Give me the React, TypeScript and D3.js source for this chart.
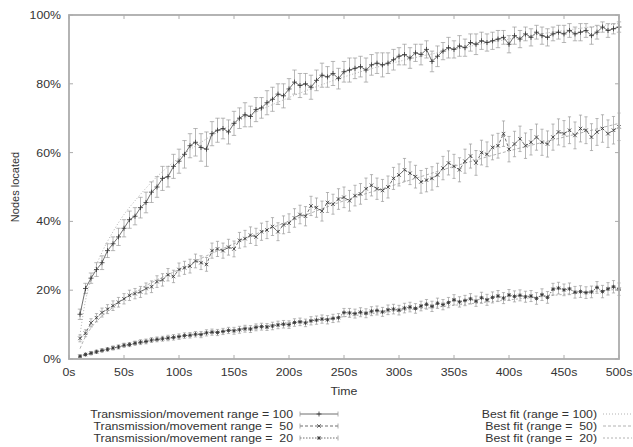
import React from 'react';
import * as d3 from 'd3';

const W = 633;
const H = 447;
const M = { top: 15, right: 14, bottom: 88, left: 69 };

// sample times (s): every 5 s from 10 to 500
const times = d3.range(10, 501, 5);

const located100 = [
  13, 20.5, 23.5, 26, 28, 31.5, 33.5, 35.5, 38, 40.5,
  41.5, 44, 45.5, 48.5, 50, 52.5, 53, 56, 57.5, 59.5,
  62, 63, 61.5, 61, 65.5, 66.5, 67, 66, 68.5, 70,
  71, 70.5, 72.5, 73, 74.5, 75.5, 77, 76.5, 78.5, 80.5,
  79.5, 80, 79, 81, 82.5, 82, 83, 81.5, 83.5, 84,
  84.5, 85, 84, 85.5, 86, 85.5, 86, 87, 88, 88.5,
  87.5, 89, 88.5, 90, 86.5, 88, 89.5, 90.5, 90, 91,
  90.5, 92, 91.5, 92.5, 92, 92.5, 93, 93.5, 91.5, 94,
  93, 94.5, 93.5, 95, 94, 93.5, 94.5, 95, 94.5, 95.5,
  94.5, 95, 95.5, 94, 95, 96.5, 95.5, 96, 96.5,
];
const err100 = [
  1.5, 1.5, 1.5, 2, 2, 2, 2, 2.5, 2.5, 2.5,
  2.5, 3, 3, 3, 3, 3.5, 3, 3.5, 3.5, 4,
  3.5, 4, 4, 5, 3.5, 3.5, 3, 3.5, 3.5, 3,
  3.5, 3, 3.5, 3, 3.5, 3.5, 3, 3.5, 3, 3.5,
  3.5, 3, 3.5, 3, 3.5, 3, 3.5, 3, 3, 3.5,
  3, 3, 3.5, 3, 3, 3.5, 3, 3, 2.5, 3,
  3, 2.5, 3, 2.5, 3, 3, 2.5, 3, 2.5, 3,
  2.5, 2.5, 3, 2.5, 2.5, 2.5, 2.5, 2, 2.5, 2.5,
  2.5, 2, 2.5, 2, 2.5, 2.5, 2, 2, 2.5, 2,
  2, 2.5, 2, 2.5, 2, 1.5, 2, 1.5, 1.5,
];

const located50 = [
  6, 7.5, 10.5, 12, 13.5, 14.5, 15.5, 16.5, 17.5, 18.5,
  19, 19.5, 20.5, 21, 22.5, 23, 24.5, 24, 26, 26.5,
  27, 28.5, 28, 27.5, 31.5, 32, 31.5, 32.5, 32, 34.5,
  35, 36, 35.5, 37, 37.5, 38.5, 37, 39, 39.5, 41,
  42, 41.5, 44.5, 44, 43, 45.5, 45, 46.5, 47, 46,
  47.5, 48, 49.5, 50.5, 49.5, 49, 50, 52.5, 53.5, 55,
  54, 53, 51.5, 52, 52.5, 53.5, 55.5, 57, 56, 55,
  57.5, 59, 57, 60, 59.5, 61.5, 62, 65.5, 61, 62.5,
  64, 62, 63, 64.5, 63, 62.5, 64.5, 66, 65.5, 66.5,
  65, 67, 66.5, 64.5, 66, 67, 65.5, 66.5, 67.5,
];
const err50 = [
  1, 1, 1.2, 1.2, 1.3, 1.3, 1.4, 1.4, 1.5, 1.5,
  1.5, 1.6, 1.6, 1.7, 1.7, 1.8, 1.8, 1.8, 1.9, 1.9,
  2, 2, 2, 2, 2.2, 2.2, 2.2, 2.3, 2.3, 2.3,
  2.4, 2.4, 2.5, 2.5, 2.5, 2.6, 2.6, 2.6, 2.7, 2.7,
  2.7, 2.8, 2.8, 2.8, 2.9, 2.9, 2.9, 3, 3, 3,
  3, 3, 3.1, 3.1, 3.1, 3.2, 3.2, 3.2, 3.2, 3.3,
  3.3, 3.3, 3.3, 3.4, 3.4, 3.4, 3.4, 3.5, 3.5, 3.5,
  3.5, 3.5, 3.6, 3.6, 3.6, 3.6, 3.6, 3.7, 3.7, 3.7,
  3.7, 3.7, 3.7, 3.8, 3.8, 3.8, 3.8, 3.8, 3.8, 3.9,
  3.9, 3.9, 3.9, 3.9, 3.9, 4, 4, 4, 4,
];

const located20 = [
  0.8, 1.3, 1.7, 2.1, 2.5, 2.8, 3.2, 3.5, 4, 4.2,
  4.6, 4.9, 5.1, 5.5, 5.7, 5.9, 6.1, 6.3, 6.5, 6.8,
  6.9, 7.2, 7.1, 7.6, 7.8, 7.7, 8, 8.3, 8.2, 8.5,
  8.8, 8.7, 9.2, 9.4, 9.3, 9.6, 9.9, 10.1, 10, 10.6,
  10.8, 10.5, 11.1, 11.3, 11.6, 11.4, 11.8, 12, 13.5, 13.4,
  13.2, 13.6, 13.3, 13.9, 14.1, 13.7, 14.3, 14.5, 14.2, 14.8,
  15.1, 14.7, 15.4, 15.9, 15.3, 16.2, 15.8, 16.4, 17.2, 16.6,
  17, 17.5, 16.8, 17.8, 17.2, 17.9, 18.3, 17.7, 18.6, 18.2,
  18.5, 18.1, 18.3, 17.6, 18.7, 17.9, 20.3, 20.6, 20.1, 20.4,
  19.4, 19.6, 19.3, 19.5, 20.8, 19.6, 20.4, 21, 20.3,
];
const err20 = [
  0.4, 0.4, 0.5, 0.5, 0.5, 0.5, 0.6, 0.6, 0.6, 0.6,
  0.6, 0.7, 0.7, 0.7, 0.7, 0.7, 0.8, 0.8, 0.8, 0.8,
  0.8, 0.8, 0.9, 0.9, 0.9, 0.9, 0.9, 0.9, 1, 1,
  1, 1, 1, 1, 1, 1.1, 1.1, 1.1, 1.1, 1.1,
  1.1, 1.1, 1.2, 1.2, 1.2, 1.2, 1.2, 1.2, 1.2, 1.3,
  1.3, 1.3, 1.3, 1.3, 1.3, 1.3, 1.4, 1.4, 1.4, 1.4,
  1.4, 1.4, 1.4, 1.4, 1.5, 1.5, 1.5, 1.5, 1.5, 1.5,
  1.5, 1.5, 1.5, 1.6, 1.6, 1.6, 1.6, 1.6, 1.6, 1.6,
  1.6, 1.6, 1.6, 1.7, 1.7, 1.7, 1.7, 1.7, 1.7, 1.7,
  1.7, 1.7, 1.7, 1.7, 1.7, 1.8, 1.8, 1.8, 1.8,
];

// best fit curves, sampled
const fitTimes = [10, 15, 20, 30, 40, 50, 60, 80, 100, 125, 150, 175, 200, 250, 300, 350, 400, 450, 500];
const fit100 = [7, 17, 23, 31, 37, 42, 46, 53, 58.5, 64, 68.5, 72.5, 76, 82, 86.5, 90, 93, 95.5, 97.5];
const fit50 = [3, 6.5, 9, 12.5, 15, 17.5, 19.5, 23, 26, 30, 33.5, 37, 40, 46, 51, 56, 60.5, 64.5, 68.5];
const fit20 = [0.7, 1.2, 1.6, 2.4, 3.1, 3.8, 4.4, 5.5, 6.5, 7.6, 8.6, 9.6, 10.5, 12.3, 14, 15.6, 17.2, 18.8, 20.3];

const xTicks = [0, 50, 100, 150, 200, 250, 300, 350, 400, 450, 500];
const yTicks = [0, 20, 40, 60, 80, 100];

const dataLabels = [
  'Transmission/movement range = 100',
  'Transmission/movement range =  50',
  'Transmission/movement range =  20',
];
const fitLabels = ['Best fit (range = 100)', 'Best fit (range =  50)', 'Best fit (range =  20)'];

const FONT = '"Liberation Sans", Arial, Helvetica, sans-serif';
const TEXT = '#333';
const BORDER = '#acacac';
const FS = 11;
const STRETCH = 1.12; // glyphs in the original are a little wide

type Marker = 'plus' | 'cross' | 'star';

function markerPath(kind: Marker, x: number, y: number, s: number) {
  const plus = `M${x - s},${y}H${x + s}M${x},${y - s}V${y + s}`;
  const d = s * 0.8;
  const cross = `M${x - d},${y - d}L${x + d},${y + d}M${x - d},${y + d}L${x + d},${y - d}`;
  if (kind === 'plus') return plus;
  if (kind === 'cross') return cross;
  return plus + cross;
}

function Label({ x, y, anchor, children }: { x: number; y: number; anchor: string; children: React.ReactNode }) {
  return (
    <text transform={`translate(${x},${y}) scale(${STRETCH},1)`} textAnchor={anchor} fontSize={FS} fill={TEXT}
      style={{ whiteSpace: 'pre' }}>{children}</text>
  );
}

const series = [
  { values: located100, errs: err100, fit: fit100, marker: 'plus' as Marker, dash: undefined, fitDash: '1,2', size: 2.5 },
  { values: located50, errs: err50, fit: fit50, marker: 'cross' as Marker, dash: '3,2', fitDash: '3,2', size: 2.2 },
  { values: located20, errs: err20, fit: fit20, marker: 'star' as Marker, dash: '1.5,1.5', fitDash: '2,2', size: 2 },
];

export default function App() {
  const innerW = W - M.left - M.right;
  const innerH = H - M.top - M.bottom;
  const x = d3.scaleLinear().domain([0, 500]).range([M.left, M.left + innerW]);
  const y = d3.scaleLinear().domain([0, 100]).range([M.top + innerH, M.top]);

  const line = d3.line<[number, number]>().x(d => x(d[0])).y(d => y(d[1]));
  const fitLine = d3.line<[number, number]>().x(d => x(d[0])).y(d => y(d[1])).curve(d3.curveMonotoneX);

  const legendRows = [414, 426, 438];

  return (
    <div style={{ position: 'absolute', left: 0, top: 0 }}>
      <svg width={W} height={H} style={{ display: 'block', background: '#fff' }} fontFamily={FONT}>
        {/* best fit curves */}
        {series.map((s, i) => (
          <path key={'fit' + i} d={fitLine(fitTimes.map((t, j) => [t, s.fit[j]]) as [number, number][]) || ''}
            fill="none" stroke="#a0a0a0" strokeWidth={0.8} strokeDasharray={s.fitDash} />
        ))}

        {/* data series */}
        {series.map((s, i) => (
          <g key={'s' + i}>
            {times.map((t, j) => {
              const cx = x(t);
              const y0 = y(s.values[j] - s.errs[j]);
              const y1 = y(s.values[j] + s.errs[j]);
              const cap = i === 0 ? 2.2 : 1.6;
              return (
                <path key={j} d={`M${cx},${y0}V${y1}M${cx - cap},${y0}H${cx + cap}M${cx - cap},${y1}H${cx + cap}`}
                  fill="none" stroke="#999" strokeWidth={0.7} />
              );
            })}
            <path d={line(times.map((t, j) => [t, s.values[j]]) as [number, number][]) || ''}
              fill="none" stroke="#4a4a4a" strokeWidth={0.8} strokeDasharray={s.dash} />
            {times.map((t, j) => (
              <path key={'m' + j} d={markerPath(s.marker, x(t), y(s.values[j]), s.size)}
                fill="none" stroke="#333" strokeWidth={0.8} />
            ))}
          </g>
        ))}

        {/* frame */}
        <rect x={M.left} y={M.top} width={innerW} height={innerH} fill="none" stroke={BORDER} strokeWidth={1.8} />
        {xTicks.map(t => (
          <g key={'xt' + t}>
            <line x1={x(t)} x2={x(t)} y1={y(0)} y2={y(0) - 4} stroke={BORDER} strokeWidth={1} />
            <line x1={x(t)} x2={x(t)} y1={y(100)} y2={y(100) + 4} stroke={BORDER} strokeWidth={1} />
            <Label x={x(t)} y={y(0) + 17} anchor="middle">{t + 's'}</Label>
          </g>
        ))}
        {yTicks.map(v => (
          <g key={'yt' + v}>
            <line x1={x(0)} x2={x(0) + 4} y1={y(v)} y2={y(v)} stroke={BORDER} strokeWidth={1} />
            <line x1={x(500)} x2={x(500) - 4} y1={y(v)} y2={y(v)} stroke={BORDER} strokeWidth={1} />
            <Label x={x(0) - 8} y={y(v) + 4} anchor="end">{v + '%'}</Label>
          </g>
        ))}

        <text transform={`translate(19,${(y(0) + y(100)) / 2}) rotate(-90)`} textAnchor="middle" fontSize={FS} fill={TEXT}>Nodes located</text>
        <Label x={(x(0) + x(500)) / 2} y={395} anchor="middle">Time</Label>

        {/* legend */}
        {series.map((s, i) => {
          const ly = legendRows[i];
          const x0 = 300, x1 = 338, xm = 319;
          return (
            <g key={'lg' + i}>
              <Label x={293} y={ly + 4} anchor="end">{dataLabels[i]}</Label>
              <path d={`M${x0},${ly}H${x1}`} stroke="#4a4a4a" strokeWidth={0.8} strokeDasharray={s.dash} fill="none" />
              <path d={`M${x0},${ly - 2.5}V${ly + 2.5}M${x1},${ly - 2.5}V${ly + 2.5}`} stroke="#999" strokeWidth={0.8} fill="none" />
              <path d={markerPath(s.marker, xm, ly, s.size)} stroke="#333" strokeWidth={0.8} fill="none" />
              <Label x={597} y={ly + 4} anchor="end">{fitLabels[i]}</Label>
              <path d={`M${603},${ly}H${632}`} stroke="#a0a0a0" strokeWidth={0.8} strokeDasharray={s.fitDash} fill="none" />
            </g>
          );
        })}
      </svg>
    </div>
  );
}
